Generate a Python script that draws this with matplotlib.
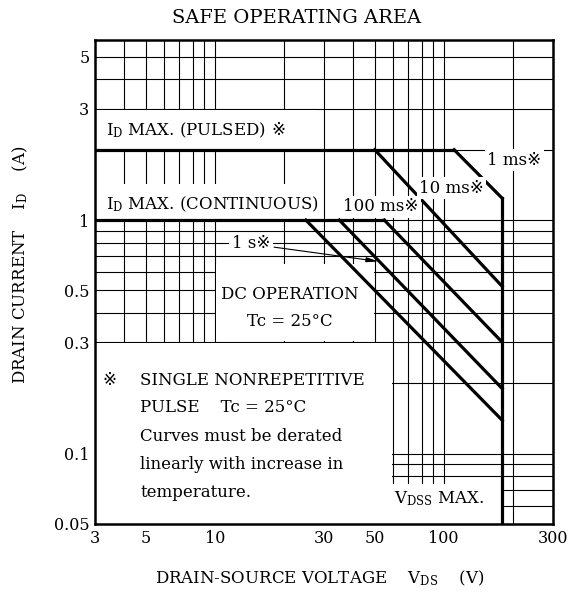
import numpy as np
import matplotlib
matplotlib.use("Agg")
import matplotlib.pyplot as plt
from matplotlib.ticker import FixedLocator, LogLocator, NullFormatter

plt.rcParams['font.family'] = ['DejaVu Serif', 'DejaVu Sans', 'Noto Sans CJK JP']
plt.rcParams['mathtext.fontset'] = 'dejavuserif'

# limits
vdss = 180          # V, drain-source breakdown
id_pulsed = 2.0     # A
id_cont = 1.0       # A

# each SOA curve: corner on the current limit, end on the VDSS line
curve_names = ['1 ms', '10 ms', '100 ms', '1 s', 'DC']
corner_v = [111, 50, 55, 35, 25]
corner_i = [2.0, 2.0, 1.0, 1.0, 1.0]
end_i = [1.24, 0.52, 0.30, 0.19, 0.139]

x_ticks = [3, 5, 10, 30, 50, 100, 300]
y_ticks = [0.05, 0.1, 0.3, 0.5, 1, 3, 5]

# areas of the printed grid left blank for the notes (V0, V1, I0, I1)
blank_boxes = [(3, 28, 2.02, 2.95),
               (3, 29, 1.01, 1.42),
               (10.1, 49.4, 0.303, 0.65),
               (3, 59.3, 0.05, 0.297),
               (59.3, 180, 0.05, 0.074)]

fig = plt.figure(figsize=(5.73, 5.92), dpi=100)
ax = fig.add_axes([95/573, 68/592, 458/573, 484/592])
ax.set_xscale('log')
ax.set_yscale('log')
ax.set_xlim(3, 300)
ax.set_ylim(0.05, 5.9)

ax.xaxis.set_major_locator(FixedLocator(x_ticks))
ax.yaxis.set_major_locator(FixedLocator(y_ticks))
ax.set_xticklabels([str(v) for v in x_ticks])
ax.set_yticklabels([str(v) for v in y_ticks])
for axis in (ax.xaxis, ax.yaxis):
    axis.set_minor_locator(LogLocator(base=10, subs=np.arange(1, 10), numticks=30))
    axis.set_minor_formatter(NullFormatter())
ax.tick_params(which='both', length=0, labelsize=11.5, pad=4)
ax.grid(True, which='both', color='black', lw=0.8)
ax.set_axisbelow(True)
for sp in ax.spines.values():
    sp.set_linewidth(1.8)

for v0, v1, i0, i1 in blank_boxes:
    ax.fill_between([v0, v1], i0, i1, color='white', lw=0, zorder=1)

# current limits and VDSS line
lw = 2.3
pulsed_end = max(v for v, i in zip(corner_v, corner_i) if i == id_pulsed)
cont_end = max(v for v, i in zip(corner_v, corner_i) if i == id_cont)
ax.plot([3, pulsed_end], [id_pulsed, id_pulsed], color='black', lw=lw, zorder=3)
ax.plot([3, cont_end], [id_cont, id_cont], color='black', lw=lw, zorder=3)
ax.plot([vdss, vdss], [0.05, max(end_i)], color='black', lw=lw, zorder=3)
for v, i, e in zip(corner_v, corner_i, end_i):
    ax.plot([v, vdss], [i, e], color='black', lw=lw, zorder=3)

box = dict(boxstyle='square,pad=0.15', fc='white', ec='none')
fs = 12

t1 = ax.text(3.35, 2.42, r'I$_\mathrm{D}$ MAX. (PULSED)', fontsize=fs, va='center', zorder=4)
ax.annotate('※', xy=(1, 0.5), xycoords=t1, xytext=(4, 0), textcoords='offset points',
            fontsize=fs, va='center', zorder=4)
ax.text(3.35, 1.17, r'I$_\mathrm{D}$ MAX. (CONTINUOUS)', fontsize=fs, va='center', zorder=4)

ax.text(203, 1.8, '1 ms※', fontsize=fs, ha='center', va='center', bbox=box, zorder=4)
ax.text(108, 1.37, '10 ms※', fontsize=fs, ha='center', va='center', bbox=box, zorder=4)
ax.text(53, 1.14, '100 ms※', fontsize=fs, ha='center', va='center', bbox=box, zorder=4)
ax.annotate('1 s※', xy=(52, 0.665), xytext=(14.4, 0.79), fontsize=fs,
            ha='center', va='center', bbox=box, zorder=4,
            arrowprops=dict(arrowstyle='-|>,head_length=0.6,head_width=0.12',
                            color='black', lw=0.8, shrinkA=1, shrinkB=0))

ax.text(21.3, 0.478, 'DC OPERATION', fontsize=fs, ha='center', va='center', zorder=4)
ax.text(21.3, 0.367, 'Tc = 25°C', fontsize=fs, ha='center', va='center', zorder=4)

ax.text(3.48, 0.205, '※', fontsize=fs, ha='center', va='center', zorder=4)
notes = ['SINGLE NONREPETITIVE', 'PULSE    Tc = 25°C', 'Curves must be derated',
         'linearly with increase in', 'temperature.']
note_i = [0.205, 0.158, 0.118, 0.090, 0.068]
for s, i in zip(notes, note_i):
    ax.text(4.73, i, s, fontsize=fs, va='center', zorder=4)

ax.text(95.8, 0.064, r'V$_\mathrm{DSS}$ MAX.', fontsize=fs, ha='center', va='center', zorder=4)

fig.text(297/573, 1 - 18/592, 'SAFE OPERATING AREA', fontsize=14, ha='center', va='center')
fig.text(320/573, 1 - 578/592, r'DRAIN-SOURCE VOLTAGE    V$_\mathrm{DS}$    (V)',
         fontsize=12, ha='center', va='center')
fig.text(20/573, 1 - 265/592, r'DRAIN CURRENT    I$_\mathrm{D}$    (A)',
         fontsize=12, ha='center', va='center', rotation=90)

fig.savefig('out.png', dpi=100)
